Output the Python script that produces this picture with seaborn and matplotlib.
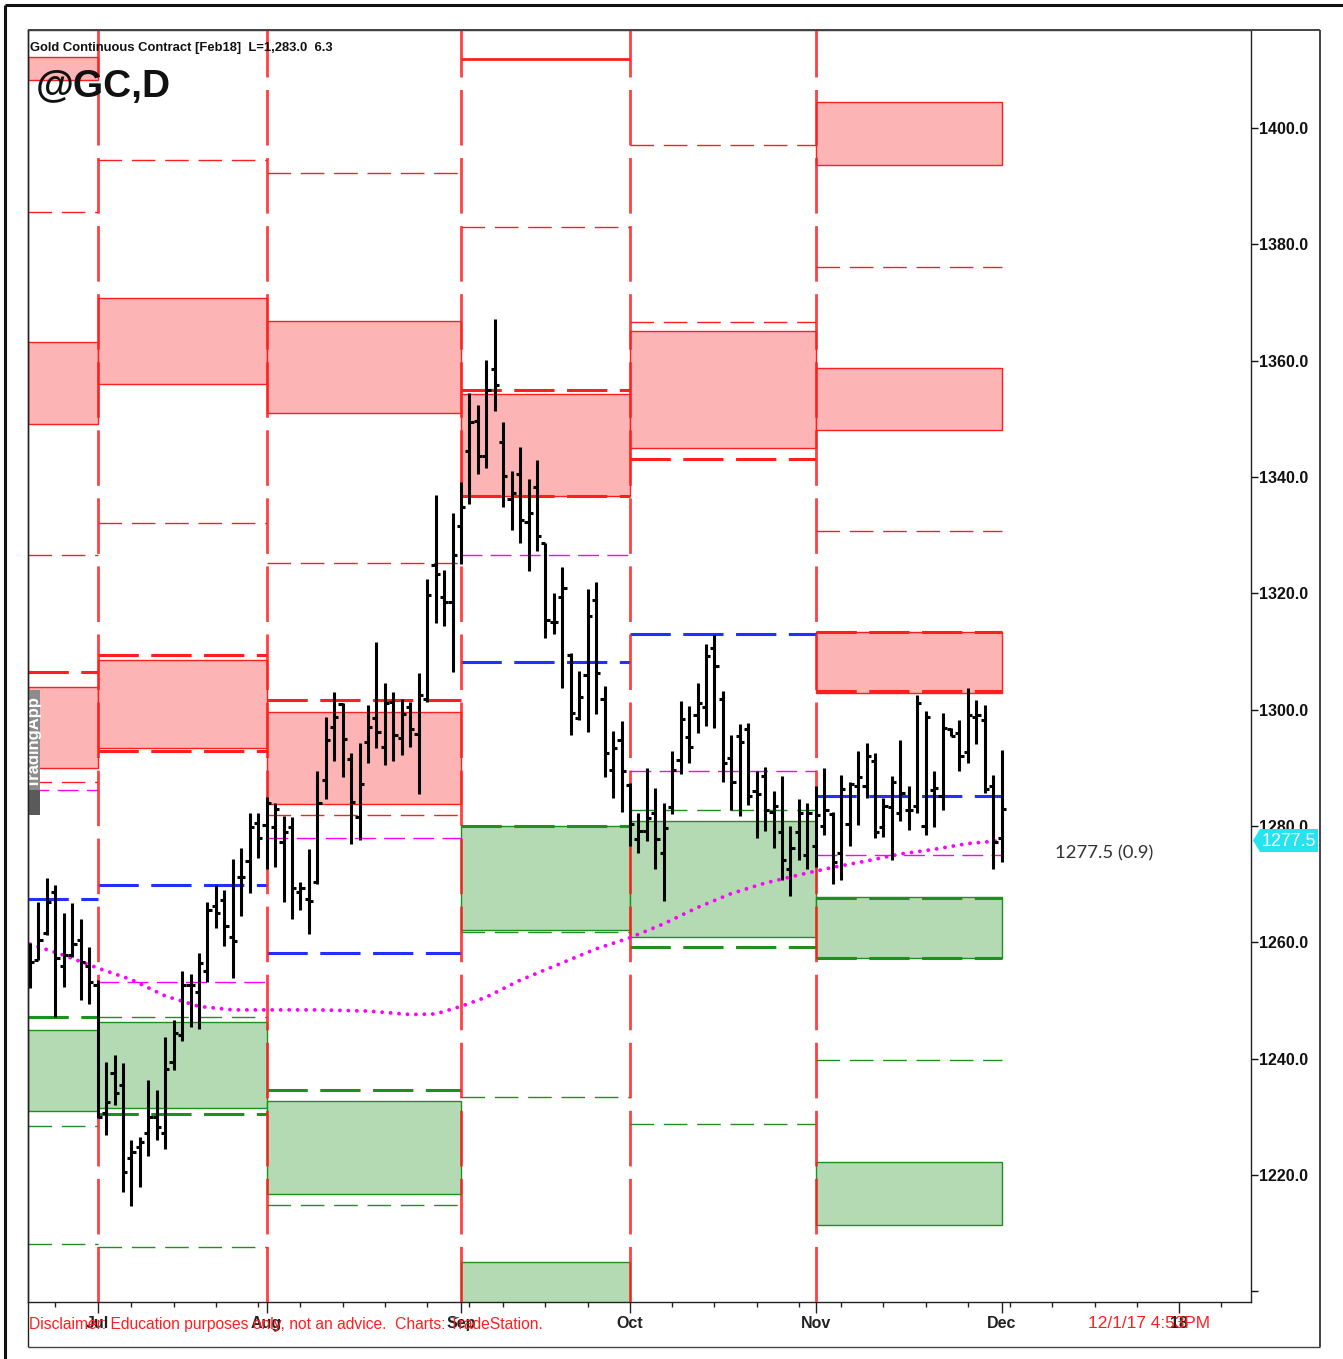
"""Gold continuous contract (@GC, daily) with monthly pivot zones, redrawn from a TradeStation screenshot."""
import matplotlib
matplotlib.use("Agg")
import matplotlib.pyplot as plt
import numpy as np
import seaborn as sns
from matplotlib import font_manager
from matplotlib.lines import Line2D
from matplotlib.patches import Polygon, Rectangle

# daily bars, x = trading-day index (0 = Jun 21 2017, 115 = Dec 1 2017)
bar_open = [1254.5, 1257.0, 1261.6, 1268.7, 1255.9, 1257.8, 1260.4, 1255.9, 1252.6, 1230.6,
            1237.5, 1235.5, 1222.9, 1224.9, 1227.3, 1230.0, 1227.3, 1239.5, 1244.1, 1252.6,
            1251.4, 1255.0, 1266.3, 1267.3, 1261.0, 1271.3, 1274.0, 1280.5, 1280.2, 1279.9,
            1277.3, 1279.9, 1268.7, 1267.4, 1270.4, 1287.9, 1297.1, 1301.0, 1291.6, 1281.5,
            1294.5, 1298.5, 1293.6, 1301.4, 1295.1, 1300.5, 1295.9, 1301.8, 1324.9, 1319.3,
            1318.6, 1331.5, 1344.4, 1349.6, 1343.7, 1358.5, 1346.0, 1336.2, 1340.6, 1332.2,
            1338.3, 1328.6, 1315.1, 1319.3, 1309.4, 1298.5, 1306.0, 1318.9, 1301.8, 1289.6,
            1294.8, 1287.0, 1277.7, 1279.2, 1282.2, 1275.3, 1283.3, 1291.3, 1295.3, 1299.1,
            1300.5, 1310.6, 1301.8, 1291.7, 1295.4, 1296.6, 1286.1, 1288.6, 1282.5, 1279.0,
            1272.7, 1278.9, 1275.0, 1276.5, 1280.0, 1282.1, 1275.3, 1280.4, 1286.8, 1286.8,
            1291.2, 1279.9, 1283.3, 1282.3, 1282.8, 1283.5, 1280.0, 1286.2, 1285.2, 1296.7,
            1296.0, 1292.8, 1298.8, 1298.2, 1286.9, 1277.9]
bar_high = [1259.9, 1267.0, 1271.0, 1269.9, 1265.0, 1266.8, 1264.1, 1259.2, 1253.5, 1239.5,
            1240.6, 1239.2, 1226.0, 1226.6, 1236.3, 1234.6, 1243.8, 1246.6, 1255.0, 1254.5,
            1258.1, 1267.0, 1269.9, 1269.0, 1274.3, 1276.2, 1282.2, 1282.2, 1285.0, 1283.9,
            1281.7, 1281.5, 1270.4, 1276.0, 1289.5, 1298.7, 1303.1, 1301.2, 1292.5, 1294.3,
            1300.8, 1311.7, 1304.6, 1303.0, 1301.8, 1301.4, 1306.3, 1322.5, 1336.9, 1324.1,
            1333.8, 1339.2, 1354.4, 1352.4, 1360.1, 1367.1, 1349.4, 1341.1, 1345.2, 1339.7,
            1342.9, 1328.7, 1320.0, 1324.6, 1309.8, 1306.7, 1320.7, 1321.9, 1304.0, 1296.4,
            1298.0, 1287.4, 1282.2, 1289.9, 1286.5, 1284.0, 1292.9, 1301.5, 1300.7, 1304.6,
            1311.3, 1312.8, 1303.2, 1295.7, 1297.5, 1297.7, 1289.4, 1290.2, 1286.1, 1288.6,
            1280.0, 1284.6, 1283.9, 1286.8, 1289.9, 1282.5, 1288.8, 1287.6, 1292.9, 1294.3,
            1292.5, 1284.8, 1288.6, 1294.8, 1286.8, 1302.5, 1299.7, 1289.4, 1299.4, 1296.9,
            1298.2, 1303.7, 1301.6, 1300.8, 1288.8, 1293.0]
bar_low = [1252.2, 1257.0, 1261.3, 1247.2, 1252.4, 1257.5, 1250.1, 1249.4, 1229.8, 1226.9,
           1232.0, 1217.1, 1214.6, 1218.0, 1223.2, 1226.0, 1224.4, 1238.1, 1243.0, 1245.5,
           1245.1, 1253.2, 1262.4, 1259.3, 1253.8, 1264.5, 1268.5, 1274.5, 1272.7, 1273.0,
           1267.0, 1264.1, 1265.6, 1261.4, 1270.1, 1284.6, 1291.1, 1288.5, 1277.0, 1277.6,
           1290.8, 1293.4, 1290.5, 1291.2, 1292.2, 1293.6, 1285.5, 1301.4, 1314.9, 1314.4,
           1306.5, 1325.0, 1335.4, 1340.6, 1341.5, 1351.4, 1334.9, 1330.9, 1328.6, 1323.8,
           1327.3, 1312.4, 1313.0, 1303.8, 1295.7, 1298.2, 1296.1, 1299.3, 1288.5, 1284.8,
           1282.5, 1276.5, 1275.3, 1277.5, 1272.7, 1267.2, 1282.1, 1288.9, 1290.9, 1296.0,
           1297.2, 1296.8, 1287.5, 1282.7, 1281.7, 1283.6, 1277.9, 1279.1, 1276.2, 1270.8,
           1268.0, 1274.1, 1272.7, 1273.0, 1278.5, 1270.1, 1270.7, 1276.6, 1280.2, 1284.8,
           1277.9, 1278.2, 1274.2, 1280.8, 1279.3, 1282.2, 1278.5, 1279.9, 1282.8, 1295.4,
           1289.4, 1290.8, 1294.1, 1285.6, 1272.7, 1273.9]
bar_close = [1256.7, 1260.4, 1267.0, 1257.3, 1257.8, 1259.8, 1256.7, 1253.2, 1230.0, 1232.6,
             1234.1, 1220.6, 1224.0, 1225.6, 1230.0, 1228.2, 1238.2, 1244.5, 1252.7, 1252.7,
             1256.4, 1265.6, 1265.1, 1262.8, 1260.3, 1271.2, 1279.9, 1277.9, 1284.0, 1283.0,
             1278.9, 1269.3, 1269.3, 1267.2, 1284.0, 1294.8, 1298.7, 1295.0, 1284.2, 1287.3,
             1297.1, 1296.1, 1301.2, 1295.7, 1299.3, 1296.6, 1302.5, 1319.7, 1323.4, 1318.6,
             1326.6, 1334.9, 1349.4, 1343.7, 1355.0, 1355.8, 1340.2, 1337.3, 1332.6, 1333.9,
             1329.8, 1315.4, 1315.1, 1321.0, 1299.4, 1302.1, 1316.1, 1306.3, 1292.5, 1293.4,
             1289.5, 1280.4, 1279.2, 1281.3, 1277.7, 1279.6, 1289.7, 1298.4, 1293.6, 1301.2,
             1309.2, 1307.5, 1290.8, 1287.5, 1294.5, 1285.2, 1285.5, 1282.8, 1283.5, 1274.2,
             1276.3, 1282.3, 1282.3, 1281.9, 1282.7, 1273.9, 1286.3, 1287.2, 1288.4, 1292.0,
             1278.9, 1283.5, 1287.5, 1285.7, 1282.8, 1301.1, 1298.8, 1286.5, 1296.9, 1295.4,
             1292.0, 1299.1, 1299.1, 1286.3, 1277.3, 1283.0]

# moving average (magenta dots), read at sample bars
ma_idx = [0, 4, 8, 12, 16, 20, 24, 28, 34, 40, 45, 48, 51, 54, 58, 63, 67, 71, 75,
          79, 83, 87, 91, 95, 99, 103, 107, 111, 115]
ma_val = [1259.7, 1257.8, 1255.6, 1253.6, 1250.8, 1249.0, 1248.4, 1248.4, 1248.4, 1248.2,
          1247.6, 1247.7, 1249.0, 1250.6, 1253.5, 1256.5, 1258.9, 1260.8, 1263.2, 1266.0,
          1268.4, 1270.2, 1271.6, 1272.9, 1274.0, 1275.2, 1276.0, 1277.0, 1277.5]

month_idx = [8, 28, 51, 71, 93, 115, 136]
month_lbl = ["Jul", "Aug", "Sep", "Oct", "Nov", "Dec", "18"]
week_idx = [3, 12, 17, 22, 27, 32, 37, 42, 47, 52, 56, 61, 66, 76, 81, 86, 91,
            96, 101, 106, 111, 116, 121, 126, 131, 141]

# monthly segments: Jun(partial), Jul, Aug, Sep, Oct, Nov
seg_start = [-0.24, 8, 28, 51, 71, 93]
seg_end = [8, 28, 51, 71, 93, 115]

# (segment, top, bottom)
red_zones = [(0, 1412.2, 1408.3), (0, 1363.2, 1349.1), (0, 1303.9, 1290.0),
             (1, 1370.8, 1356.0), (1, 1308.5, 1293.4),
             (2, 1366.8, 1351.0), (2, 1299.6, 1283.8),
             (3, 1354.3, 1336.7),
             (4, 1365.1, 1345.0),
             (5, 1404.5, 1393.6), (5, 1358.7, 1348.1), (5, 1313.4, 1302.9)]
green_zones = [(0, 1244.9, 1231.0), (1, 1246.3, 1231.5), (2, 1232.7, 1216.7),
               (3, 1280.0, 1262.1), (3, 1205.0, 1190.0), (4, 1280.9, 1260.9),
               (5, 1267.8, 1257.3), (5, 1222.2, 1211.4)]

# (segment, price)
red_thin = [(0, 1385.6), (0, 1326.6), (0, 1287.6), (1, 1394.5), (1, 1332.1),
            (2, 1392.3), (2, 1325.2), (2, 1281.9), (3, 1383.0), (4, 1397.1),
            (4, 1366.6), (5, 1376.1), (5, 1330.7)]
red_thick = [(0, 1306.5), (1, 1309.4), (1, 1292.9), (2, 1301.7), (3, 1355.0),
             (3, 1336.7), (4, 1343.1), (5, 1313.4), (5, 1303.2)]
red_solid = [(3, 1411.9)]
green_thin = [(0, 1228.4), (0, 1208.1), (1, 1247.2), (1, 1207.6), (2, 1214.9),
              (3, 1261.8), (3, 1233.4), (4, 1282.8), (4, 1228.8), (5, 1239.8)]
green_thick = [(0, 1247.2), (1, 1230.5), (2, 1234.6), (3, 1280.0), (4, 1259.2),
               (5, 1267.6), (5, 1257.3)]
blue_lines = [(0, 1267.5), (1, 1269.9), (2, 1258.2), (3, 1308.2), (4, 1313.0), (5, 1285.2)]
pivot_lines = [(0, 1286.2), (1, 1253.2), (2, 1277.9), (3, 1326.6), (4, 1289.5), (5, 1275.0)]

y_ticks = [1200, 1220, 1240, 1260, 1280, 1300, 1320, 1340, 1360, 1380, 1400]
last_ma = 1277.5

RED = "#ff1f1f"
PINK = "#fdb4b4"
GREEN = "#1f8f1f"
GREEN_FILL = "#b4dab4"
BLUE = "#2130ff"
MAGENTA = "#ff00ff"

W, H = 1343, 1359

sns.set_style("white")
plt.rcParams["lines.scale_dashes"] = False
plt.rcParams["font.family"] = ["Liberation Sans", "DejaVu Sans"]

names = {f.name for f in font_manager.fontManager.ttflist}
if "Liberation Sans Narrow" in names:
    NARROW = ["Liberation Sans Narrow", "Liberation Sans", "DejaVu Sans"]
else:
    NARROW = ["Liberation Sans", "DejaVu Sans"]


def fx(px):
    return px / W


def fy(py):
    return 1 - py / H


fig = plt.figure(figsize=(W / 100, H / 100), dpi=100)
ax = fig.add_axes([fx(28), fy(1302), (1251 - 28) / W, (1302 - 30) / H])
ax.set_xlim(-0.24, 144.5)
ax.set_ylim(1198.18, 1416.85)


def level_lines(levels, color, lw, ls, z=2):
    ys = [p for _, p in levels]
    x0 = [seg_start[s] for s, _ in levels]
    x1 = [seg_end[s] for s, _ in levels]
    ax.hlines(ys, x0, x1, colors=color, linewidth=lw, linestyles=ls, zorder=z)


for zones, fill, edge in [(red_zones, PINK, RED), (green_zones, GREEN_FILL, GREEN)]:
    for s, top, bot in zones:
        ax.add_patch(Rectangle((seg_start[s], bot), seg_end[s] - seg_start[s], top - bot,
                               facecolor=fill, edgecolor=edge, linewidth=1.0, zorder=1))

level_lines(red_thin, RED, 1.0, (0, (17, 7)))
level_lines(red_thick, RED, 2.2, (0, (29, 9)))
level_lines(red_solid, RED, 2.0, "solid")
level_lines(green_thin, GREEN, 1.0, (0, (17, 7)))
level_lines(green_thick, GREEN, 2.2, (0, (29, 9)))
level_lines(blue_lines, BLUE, 2.2, (0, (29, 9)))
level_lines(pivot_lines, MAGENTA, 1.0, (0, (15, 6)))

ax.vlines(month_idx[:5], 1198.18, 1416.85, colors=RED, linewidth=2.0,
          linestyles=(0, (40, 9)), alpha=0.85, zorder=3)

sns.lineplot(x=ma_idx, y=ma_val, ax=ax, color=MAGENTA, linewidth=2.8,
             linestyle=(0, (0.01, 6.08)), dash_capstyle="round", zorder=4)

idx = np.arange(len(bar_close))
ax.vlines(idx, bar_low, bar_high, colors="black", linewidth=2.2, zorder=5)
ax.hlines(bar_open, idx - 0.5, idx, colors="black", linewidth=2.2, zorder=5)
ax.hlines(bar_close, idx, idx + 0.5, colors="black", linewidth=2.2, zorder=5)

# TradingApp watermark, cut by the left edge
ax.add_patch(Rectangle((-0.24, 1281.9), 1.42, 21.5, facecolor="#8c8c8c", edgecolor="none", zorder=6))
ax.add_patch(Rectangle((-0.24, 1281.9), 1.42, 4.3, facecolor="#5a5a5a", edgecolor="none", zorder=6))
ax.text(0.55, 1294.5, "TradingApp", rotation=90, color="white", fontweight="bold",
        fontsize=12, ha="center", va="center", clip_on=True, zorder=7)

# axes
ax.set_xticks(month_idx)
ax.set_xticklabels(month_lbl, fontweight="bold", fontsize=11.5)
ax.set_xticks(week_idx, minor=True)
ax.tick_params(axis="x", which="major", bottom=True, length=8, width=1, pad=2, colors="#222222")
ax.tick_params(axis="x", which="minor", bottom=True, length=3.6, width=1, colors="#222222")
ax.yaxis.tick_right()
ax.set_yticks(y_ticks)
ax.set_yticklabels(["" if v == 1200 else f"{v:.1f}" for v in y_ticks], fontweight="bold", fontsize=11.5)
ax.tick_params(axis="y", which="major", right=True, left=False, length=5, width=1, pad=1, colors="#111111")
for sp in ax.spines.values():
    sp.set_visible(True)
    sp.set_color("#222222")
    sp.set_linewidth(1.0)


def fig_line(x0, y0, x1, y1, lw, color):
    fig.add_artist(Line2D([fx(x0), fx(x1)], [fy(y0), fy(y1)], transform=fig.transFigure,
                          color=color, linewidth=lw, solid_capstyle="butt"))


# outer border and inner chart frame
fig_line(5, 5, W, 5, 2.2, "#111111")
fig_line(5, 5, 5, H, 2.2, "#111111")
fig_line(28, 30, 1320, 30, 1.4, "#444444")
fig_line(28, 30, 28, 1347, 1.0, "#222222")
fig_line(28, 1347, 1320, 1347, 1.0, "#444444")
fig_line(1320, 30, 1320, 1347, 1.4, "#444444")

renderer = fig.canvas.get_renderer()


def fit_width(txt, target_px):
    w = txt.get_window_extent(renderer).width
    txt.set_fontsize(txt.get_fontsize() * target_px / w)


t = fig.text(fx(30), fy(51.5), "Gold Continuous Contract [Feb18]  L=1,283.0  6.3",
             family=NARROW, fontweight="bold", fontsize=11.5,
             ha="left", va="baseline", color="#111111")
fit_width(t, 305)
t = fig.text(fx(36), fy(97), "@GC,D", family=NARROW, fontweight="bold",
             fontsize=33, ha="left", va="baseline", color="#111111")
fit_width(t, 135)
t = fig.text(fx(29), fy(1324), "Disclaimer: Education purposes only, not an advice.  Charts: TradeStation.",
             family=NARROW, fontsize=11.5, ha="left", va="center", color=RED, zorder=5)
fit_width(t, 516)
t = fig.text(fx(1088), fy(1324), "12/1/17 4:53PM", family=NARROW, fontsize=11.5,
             ha="left", va="center", color=RED, zorder=5)
fit_width(t, 122)
t = fig.text(fx(1055), fy(853), f"{last_ma:.1f} (0.9)", family=["Lato", "DejaVu Sans"],
             fontsize=13, ha="left", va="center", color="#333333")
fit_width(t, 98)

# last value tag on the price scale
fig.add_artist(Polygon([(fx(1253), fy(840.5)), (fx(1260), fy(829)), (fx(1318), fy(829)),
                        (fx(1318), fy(852)), (fx(1260), fy(852))], closed=True,
                       transform=fig.transFigure, facecolor="#25e3ef", edgecolor="none", zorder=10))
t = fig.text(fx(1289), fy(841), f"{last_ma:.1f}", fontsize=12.5, ha="center", va="center",
             color="white", zorder=11)
fit_width(t, 55)

fig.savefig("out.png", dpi=100)
